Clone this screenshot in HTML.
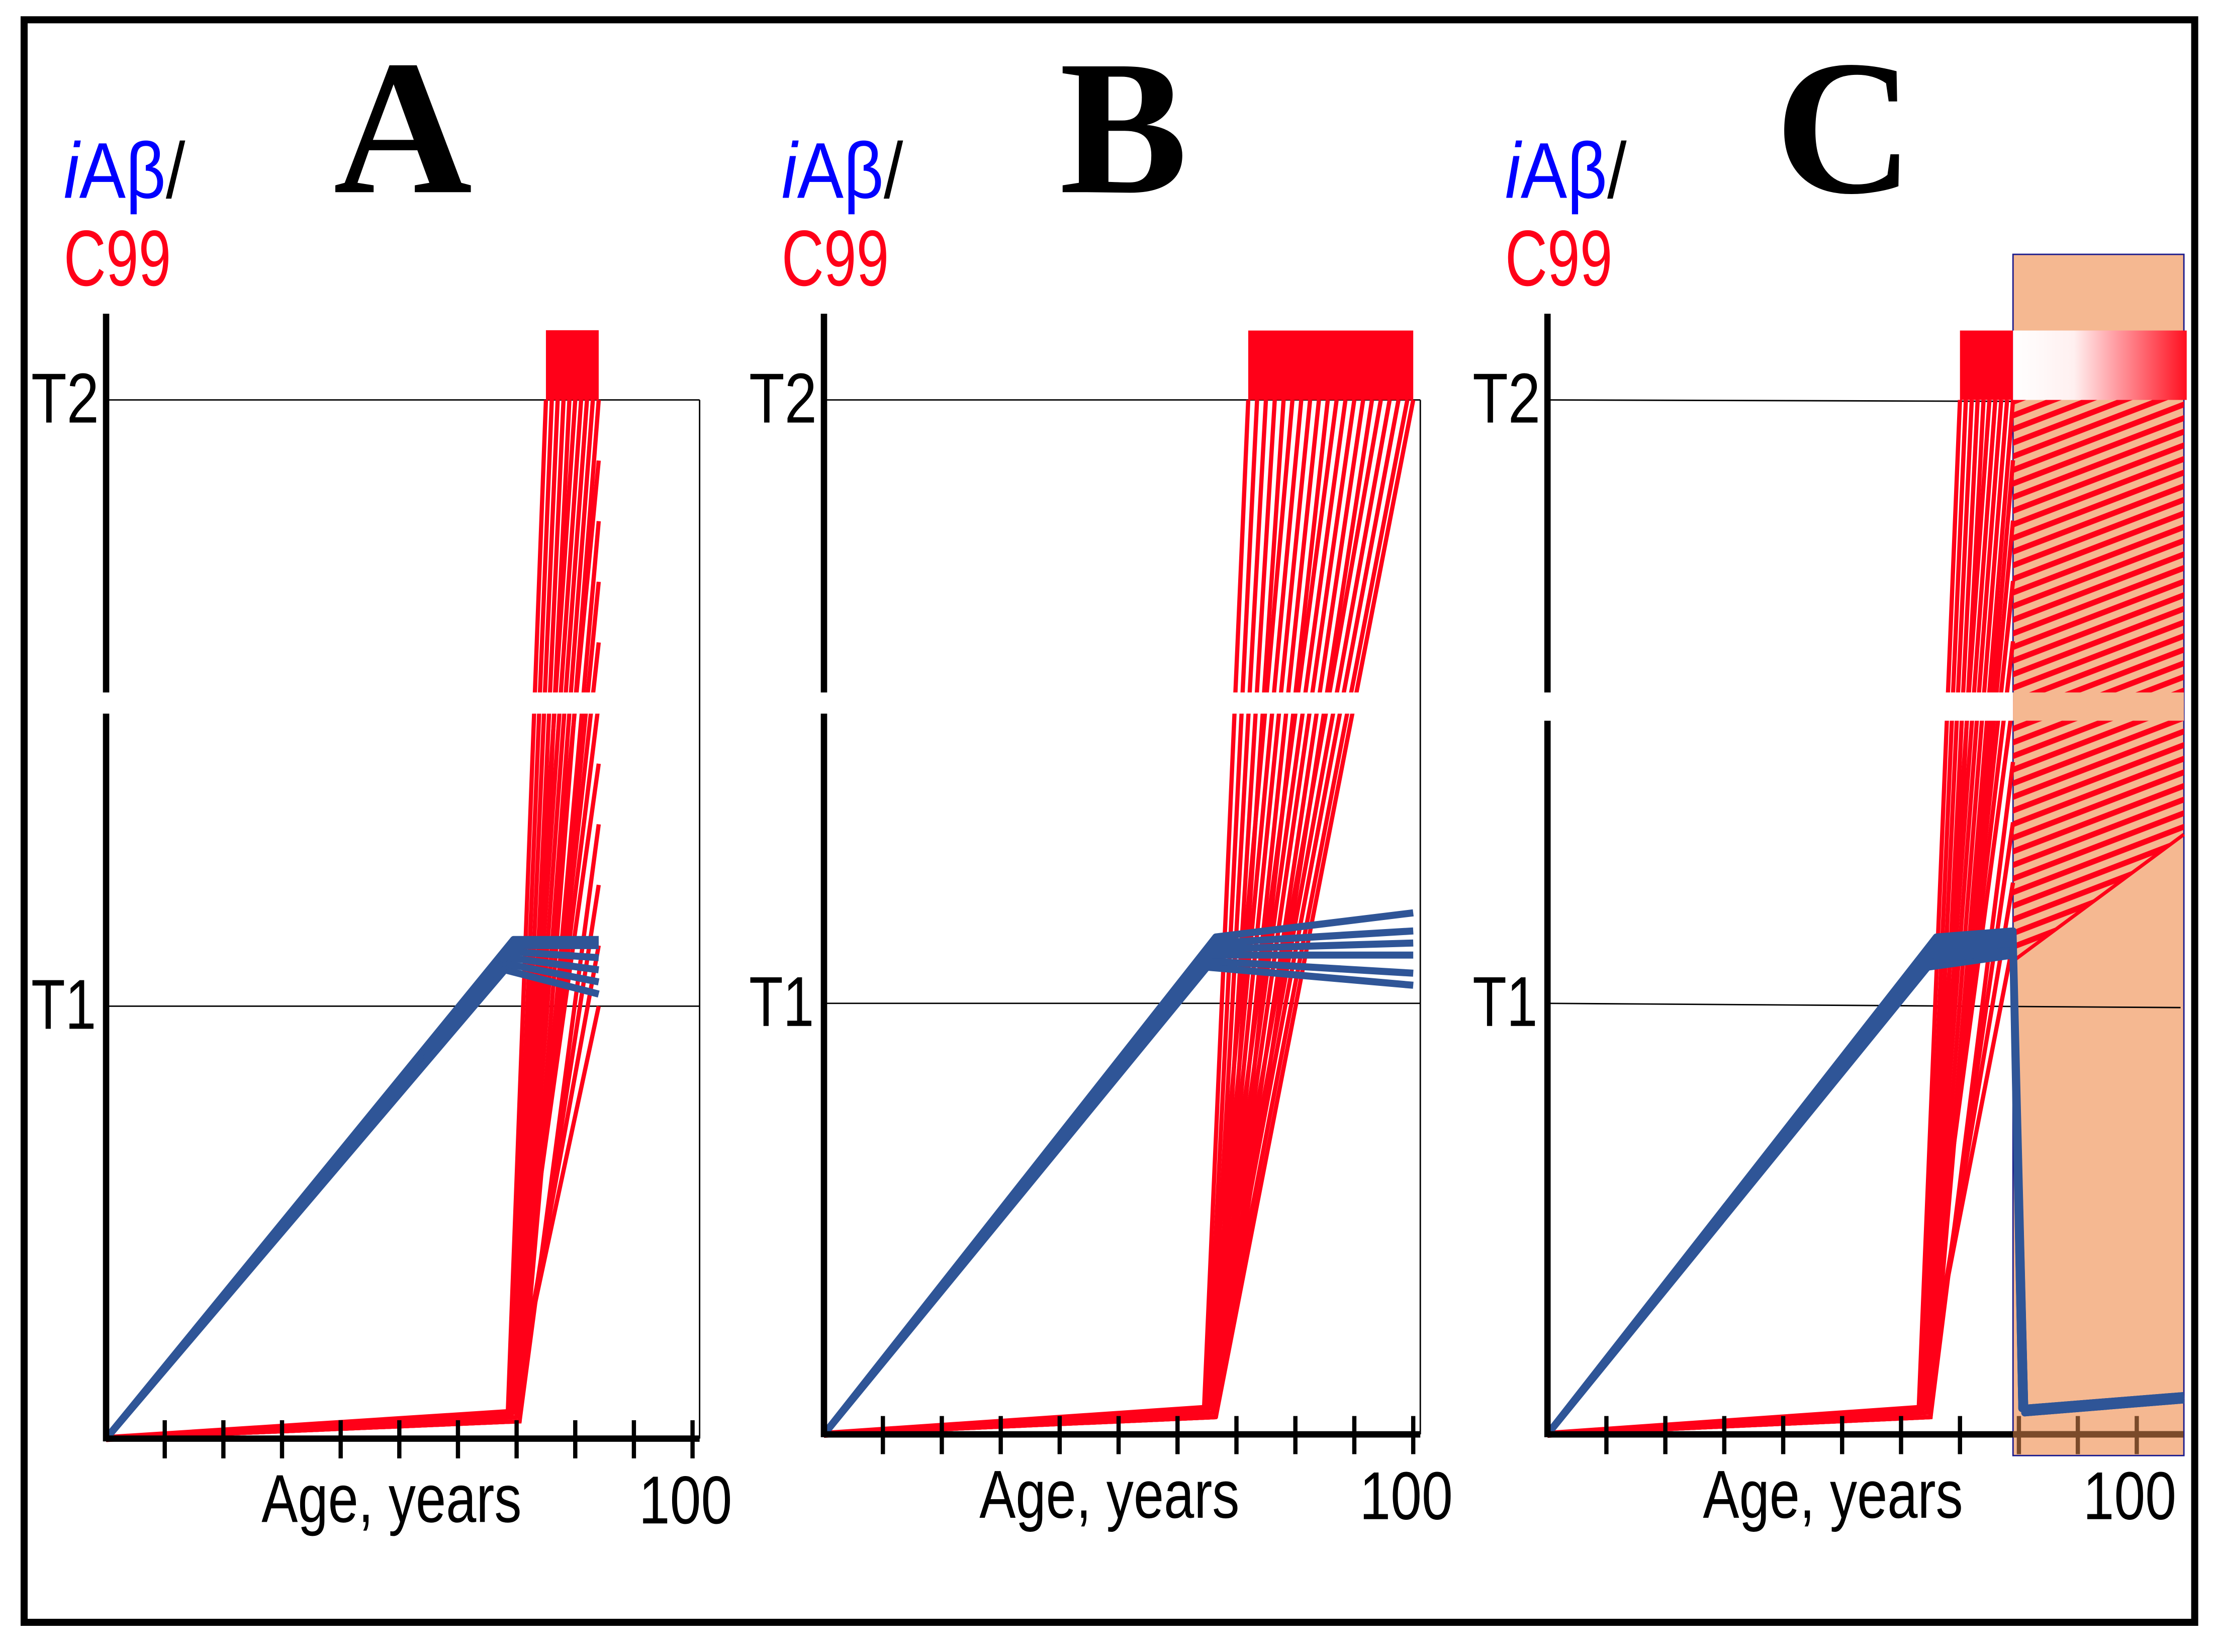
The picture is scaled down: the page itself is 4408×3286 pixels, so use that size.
<!DOCTYPE html>
<html><head><meta charset="utf-8"><style>
html,body{margin:0;padding:0;background:#fff;}
svg{display:block;}
</style></head><body>
<svg id="fig" width="4408" height="3286" viewBox="0 0 1568 1169" xmlns="http://www.w3.org/2000/svg" font-family="Liberation Sans, sans-serif">
<defs>
<linearGradient id="gradC" x1="0" x2="1" y1="0" y2="0">
<stop offset="0" stop-color="#ffffff"/><stop offset="0.35" stop-color="#fff0f0"/><stop offset="1" stop-color="#ff1020"/>
</linearGradient>
<pattern id="hatch" patternUnits="userSpaceOnUse" width="40" height="9" patternTransform="rotate(-21)">
<rect x="0" y="0" width="40" height="4" fill="#ff0018"/>
</pattern>
</defs>
<rect x="17" y="14" width="1536" height="1134" fill="none" stroke="#000" stroke-width="5"/>
<g id="panels"></g>
</svg>
<script>
// ---- Panel A data ----
const blueA_peakAge=[68,68.3,68.6,68.9,69.2,69.5];
const blueA_peakVal=[1.06,1.07,1.08,1.09,1.1,1.11];
const blueA_endAge=84;
const blueA_endVal=[1.02,1.04,1.06,1.08,1.1,1.11];
const redA_baseAge=[68.5,69,69.5,70,70.5];
const redA_baseVal=[0.06,0.05,0.06,0.05,0.04];
const redA_topAge=[75,76,77,78,79,80,81,82,83,84];
const redA_sideAge=84;
const redA_sideVal=[1.0,1.1,1.2,1.3,1.4,1.5,1.6,1.7,1.8,1.9];
const redA_block=[75,84];
// ---- Panel B data ----
const blueB_peakAge=[65,65.3,65.6,65.9,66.2,66.5];
const blueB_peakVal=[1.06,1.07,1.08,1.09,1.1,1.11];
const blueB_endAge=100;
const blueB_endVal=[1.03,1.05,1.08,1.1,1.12,1.15];
const redB_baseAge=[64.5,65,65.5,66,66.5];
const redB_baseVal=[0.06,0.05,0.06,0.05,0.04];
const redB_topAge=[72,73.5,75,76.5,78,79.5,81,82.5,84,85.5,87,88.5,90,91.5,93,94.5,96,97.5,99,100];
const redB_sideAge=100;
const redB_sideVal=[];
const redB_block=[72,100];
// ---- Panel C data ----
const blueC_peakAge=[64.5,64.8,65.1,65.4,65.7,66];
const blueC_peakVal=[1.06,1.07,1.08,1.09,1.1,1.11];
const blueC_plateauAge=79;
const blueC_plateauVal=[1.08,1.09,1.1,1.1,1.11,1.12];
const blueC_dropAge=[80.5,81];
const blueC_dropVal=[0.06,0.05];
const blueC_endAge=108;
const blueC_endVal=[0.09,0.08];
const redC_baseAge=[63,63.5,64,64.5,65];
const redC_baseVal=[0.06,0.05,0.06,0.05,0.04];
const redC_topAge=[70,71,72,73,74,75,76,77,78,79];
const redC_sideAge=79;
const redC_sideVal=[1.1,1.2,1.3,1.4,1.5,1.6,1.7,1.8,1.9];
const redC_block=[70,79];
const hatchC_age=[79,108];
const hatchC_lowVal=[1.07,1.28];
const treatC_age=[79,108];
const xTicks=[10,20,30,40,50,60,70,80,90,100];

const NS='http://www.w3.org/2000/svg';
const root=document.getElementById('panels');
function mk(tag,attrs,parent){const e=document.createElementNS(NS,tag);for(const k in attrs)e.setAttribute(k,attrs[k]);(parent||root).appendChild(e);return e;}

function panel(cfg){
  const g=mk('g',{});
  
  
  const X=a=>cfg.x0+(cfg.x100-cfg.x0)*a/100;
  const Y=v=>v<=1?cfg.y0-(cfg.y0-cfg.t1)*v:cfg.t1-(cfg.t1-cfg.t2)*(v-1);
  const xr=cfg.xRight;
  if(cfg.treat){
    const r=mk('rect',{x:X(cfg.treat[0]),y:180,width:X(cfg.treat[1])-X(cfg.treat[0]),height:850,fill:'#f5b891',stroke:'#1a1a8c','stroke-width':1},g);
    
    
  }
  const l1=mk('line',{x1:cfg.x0,y1:cfg.t1,x2:xr,y2:cfg.t1+(cfg.treat?3:0),stroke:'#000','stroke-width':1},g);
  
  
  const l2=mk('line',{x1:cfg.x0,y1:cfg.t2,x2:cfg.treat?X(cfg.treat[0]):xr,y2:cfg.t2+(cfg.treat?1:0),stroke:'#000','stroke-width':1},g);
  
  
  if(!cfg.treat){
    const rb=mk('line',{x1:xr,y1:cfg.t2,x2:xr,y2:cfg.y0,stroke:'#000','stroke-width':1},g);
    
    
  }
  if(cfg.hatch){
    const pts=[[X(cfg.hatch.age[0]),Y(2)],[X(cfg.hatch.age[1]),Y(2)],[X(cfg.hatch.age[1]),Y(cfg.hatch.low[1])],[X(cfg.hatch.age[0]),Y(cfg.hatch.low[0])]];
    const h=mk('polygon',{points:pts.map(p=>p.join(',')).join(' '),fill:'url(#hatch)'},g);
    
    
    const bl=mk('line',{x1:pts[3][0],y1:pts[3][1],x2:pts[2][0],y2:pts[2][1],stroke:'#ff0018','stroke-width':2.5},g);
    
    
  }
  const red='#ff0018';
  const nb=cfg.redBase.length;
  const first=mk('polyline',{points:[X(0),Y(0),X(cfg.redBase[0]),Y(cfg.redBaseVal[0])].join(','),fill:'none',stroke:red,'stroke-width':5},g);
  
  
  cfg.redTop.forEach((a,i)=>{
    const bi=i%nb;
    const p=mk('polyline',{points:[[X(0),Y(0)],[X(cfg.redBase[bi]),Y(cfg.redBaseVal[bi])],[X(a),Y(2)]].map(q=>q.join(',')).join(' '),fill:'none',stroke:red,'stroke-width':3,'stroke-linejoin':'round'},g);
    
    
  });
  cfg.redSide.forEach((v,i)=>{
    const bi=(i+1)%nb;
    const p=mk('polyline',{points:[[X(0),Y(0)],[X(cfg.redBase[bi]),Y(cfg.redBaseVal[bi])],[X(cfg.redSideAge),Y(v)]].map(q=>q.join(',')).join(' '),fill:'none',stroke:red,'stroke-width':3},g);
    
    
  });
  const blk=mk('rect',{x:X(cfg.redBlock[0]),y:Y(2.115),width:X(cfg.redBlock[1])-X(cfg.redBlock[0]),height:Y(2)-Y(2.115),fill:red},g);
  
  
  if(cfg.treat){
    const gb=mk('rect',{x:X(cfg.treat[0]),y:Y(2.115),width:X(cfg.treat[1])-X(cfg.treat[0])+2,height:Y(2)-Y(2.115),fill:'url(#gradC)'},g);
    
    
  }
  const blue='#2f5597';
  cfg.bluePeakAge.forEach((a,i)=>{
    const pts=[[X(0),Y(0)],[X(a),Y(cfg.bluePeakVal[i])]];
    if(cfg.bluePlateauAge!==undefined){
      pts.push([X(cfg.bluePlateauAge),Y(cfg.bluePlateauVal[i])]);
      const di=i%cfg.blueDropAge.length;
      pts.push([X(cfg.blueDropAge[di]),Y(cfg.blueDropVal[di])]);
      pts.push([X(cfg.blueEndAge),Y(cfg.blueEndVal[di])]);
    } else {
      pts.push([X(cfg.blueEndAge),Y(cfg.blueEndVal[i])]);
    }
    const p=mk('polyline',{points:pts.map(q=>q.join(',')).join(' '),fill:'none',stroke:blue,'stroke-width':5,'stroke-linejoin':'round'},g);
    
    
  });
  const gapR=cfg.treat?X(cfg.treat[0]):xr-2;
  const gap=mk('rect',{x:cfg.x0-6,y:cfg.gap[0],width:gapR-cfg.x0+6,height:cfg.gap[1]-cfg.gap[0],fill:'#fff'},g);
  
  
  if(cfg.treat){
    const sg=mk('rect',{x:X(cfg.treat[0]),y:cfg.gap[0],width:X(cfg.treat[1])-X(cfg.treat[0]),height:cfg.gap[1]-cfg.gap[0],fill:'#f5b891'},g);
    
    
  }
  const ya=mk('path',{d:`M${cfg.x0},222 V${cfg.gap[0]} M${cfg.x0},${cfg.gap[1]} V${cfg.y0+2}`,stroke:'#000','stroke-width':4.5,fill:'none'},g);
  
  
  const xa=mk('line',{x1:cfg.x0,y1:cfg.y0,x2:cfg.xAxisEnd,y2:cfg.y0,stroke:'#000','stroke-width':4.5},g);
  
  
  xTicks.forEach(t=>{
    const inTreat=cfg.treat&&X(t)>X(cfg.treat[0])-1;
    const tk=mk('line',{x1:X(t),y1:cfg.y0-13,x2:X(t),y2:cfg.y0+14,stroke:inTreat?'#7a4a2a':'#000','stroke-width':3},g);
    
    
  });
  if(cfg.treat){
    const ov=mk('line',{x1:X(cfg.treat[0]),y1:cfg.y0,x2:cfg.xAxisEnd,y2:cfg.y0,stroke:'#7a4a2a','stroke-width':4.5},g);
    
    
  }
  const tt=mk('text',{x:cfg.titleX,y:136,style:'font-family:"Liberation Serif",serif;font-weight:bold;font-size:136px','text-anchor':'middle',fill:'#000'},g);
  tt.textContent=cfg.id.toUpperCase();
  
  
  const yl=mk('text',{x:cfg.x0-30,y:140,'font-size':56,textLength:86,lengthAdjust:'spacingAndGlyphs'},g);
  yl.innerHTML='<tspan fill="#0000ff" font-style="italic">i</tspan><tspan fill="#0000ff">Aβ</tspan><tspan fill="#000">/</tspan>';
  
  
  const yl2=mk('text',{x:cfg.x0-30,y:202,'font-size':56,fill:'#ff0018',textLength:76,lengthAdjust:'spacingAndGlyphs'},g);
  yl2.textContent='C99';
  
  
  const t2=mk('text',{x:cfg.x0-53,y:cfg.t2+16,'font-size':50,textLength:48,lengthAdjust:'spacingAndGlyphs'},g);
  t2.textContent='T2';
  
  
  const t1=mk('text',{x:cfg.x0-53,y:cfg.t1+16,'font-size':50,textLength:46,lengthAdjust:'spacingAndGlyphs'},g);
  t1.textContent='T1';
  
  
  const xl=mk('text',{x:cfg.x0+110,y:cfg.y0+59,'font-size':48,textLength:184,lengthAdjust:'spacingAndGlyphs'},g);
  xl.textContent='Age, years';
  
  
  const hl=mk('text',{x:cfg.x100-38,y:cfg.y0+60,'font-size':48,textLength:66,lengthAdjust:'spacingAndGlyphs'},g);
  hl.textContent='100';
  
  
}

panel({id:'a',x0:75,x100:490,y0:1018,t1:712,t2:283,xRight:495,xAxisEnd:495,gap:[490,505],titleX:285,
  bluePeakAge:blueA_peakAge,bluePeakVal:blueA_peakVal,blueEndAge:blueA_endAge,blueEndVal:blueA_endVal,
  redBase:redA_baseAge,redBaseVal:redA_baseVal,redTop:redA_topAge,redSideAge:redA_sideAge,redSide:redA_sideVal,redBlock:redA_block});
panel({id:'b',x0:583,x100:1000,y0:1015,t1:710,t2:283,xRight:1005,xAxisEnd:1005,gap:[490,505],titleX:795,
  bluePeakAge:blueB_peakAge,bluePeakVal:blueB_peakVal,blueEndAge:blueB_endAge,blueEndVal:blueB_endVal,
  redBase:redB_baseAge,redBaseVal:redB_baseVal,redTop:redB_topAge,redSideAge:redB_sideAge,redSide:redB_sideVal,redBlock:redB_block});
panel({id:'c',x0:1095,x100:1512,y0:1015,t1:710,t2:283,xRight:1543,xAxisEnd:1545,gap:[490,510],titleX:1305,
  bluePeakAge:blueC_peakAge,bluePeakVal:blueC_peakVal,bluePlateauAge:blueC_plateauAge,bluePlateauVal:blueC_plateauVal,
  blueDropAge:blueC_dropAge,blueDropVal:blueC_dropVal,blueEndAge:blueC_endAge,blueEndVal:blueC_endVal,
  redBase:redC_baseAge,redBaseVal:redC_baseVal,redTop:redC_topAge,redSideAge:redC_sideAge,redSide:redC_sideVal,redBlock:redC_block,
  treat:treatC_age,hatch:{age:hatchC_age,low:hatchC_lowVal}});
</script>
</body></html>
